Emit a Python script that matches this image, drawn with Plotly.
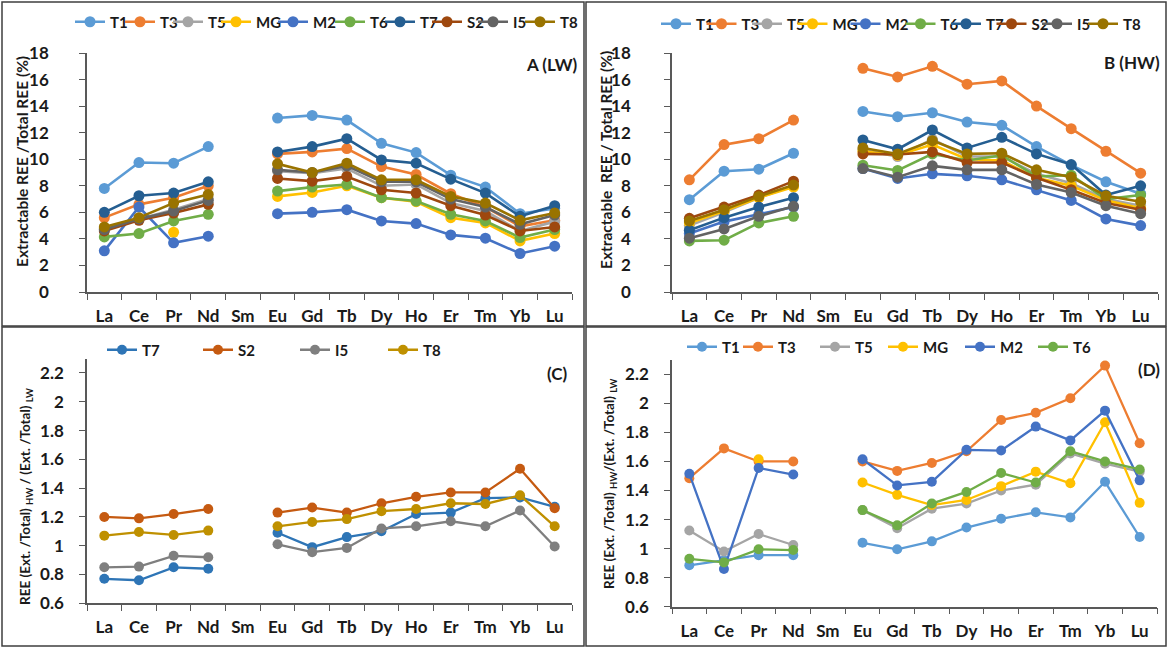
import plotly.graph_objects as go

W, H = 1168, 648

elements = ["La", "Ce", "Pr", "Nd", "Sm", "Eu", "Gd", "Tb", "Dy", "Ho", "Er", "Tm", "Yb", "Lu"]

# ---------- Panel A (LW): Extractable REE / Total REE (%) ----------
lw_T1 = [7.8, 9.75, 9.7, 10.95, None, 13.1, 13.3, 12.95, 11.2, 10.5, 8.8, 7.9, 5.9, 6.3]
lw_T3 = [5.6, 6.6, 7.1, 8.0, None, 10.4, 10.55, 10.8, 9.45, 8.85, 7.4, 6.4, 4.95, 5.4]
lw_T5 = [4.8, 5.5, 6.2, 7.0, None, 9.1, 8.95, 9.3, 8.0, 8.1, 6.7, 6.1, 4.6, 5.3]
lw_MG = [None, None, 4.5, None, None, 7.2, 7.5, 8.0, 7.1, 6.8, 5.6, 5.2, 3.85, 4.4]
lw_M2 = [3.1, 6.4, 3.7, 4.2, None, 5.9, 6.0, 6.2, 5.35, 5.15, 4.3, 4.05, 2.9, 3.45]
lw_T6 = [4.15, 4.4, 5.35, 5.85, None, 7.6, 7.9, 8.1, 7.1, 6.85, 5.85, 5.35, 4.1, 4.7]
lw_T7 = [6.0, 7.25, 7.45, 8.3, None, 10.55, 10.95, 11.55, 9.95, 9.7, 8.5, 7.45, 5.7, 6.5]
lw_S2 = [4.6, 5.4, 5.95, 6.6, None, 8.55, 8.35, 8.7, 7.7, 7.45, 6.5, 5.8, 4.6, 4.9]
lw_I5 = [4.7, 5.5, 6.1, 6.9, None, 9.2, 9.0, 9.5, 8.3, 8.3, 7.0, 6.4, 5.1, 5.8]
lw_T8 = [4.9, 5.6, 6.7, 7.35, None, 9.65, 9.0, 9.7, 8.45, 8.45, 7.2, 6.7, 5.4, 5.95]

# ---------- Panel B (HW) ----------
hw_T1 = [6.95, 9.1, 9.25, 10.45, None, 13.6, 13.2, 13.5, 12.8, 12.55, 10.95, 9.55, 8.3, 7.4]
hw_T3 = [8.45, 11.1, 11.55, 12.95, None, 16.85, 16.2, 17.0, 15.65, 15.9, 14.0, 12.3, 10.6, 8.95]
hw_T5 = [5.0, 6.0, 7.1, 8.0, None, 10.7, 10.2, 11.5, 10.2, 10.2, 8.9, 8.2, 7.0, 6.5]
hw_MG = [5.2, 6.1, 7.1, 7.9, None, 10.6, 10.3, 11.1, 10.0, 9.9, 8.6, 8.0, 6.9, 6.3]
hw_M2 = [4.4, 5.3, 5.85, 6.4, None, 9.3, 8.55, 8.9, 8.75, 8.45, 7.7, 6.9, 5.5, 5.0]
hw_T6 = [3.85, 3.9, 5.2, 5.7, None, 9.55, 9.15, 10.4, 9.9, 10.3, 8.7, 8.8, 7.0, 7.3]
hw_T7 = [4.65, 5.6, 6.4, 7.1, None, 11.45, 10.75, 12.2, 10.85, 11.65, 10.4, 9.6, 7.3, 8.0]
hw_S2 = [5.55, 6.4, 7.3, 8.35, None, 10.4, 10.35, 10.55, 9.75, 9.75, 8.6, 7.7, 6.7, 6.2]
hw_I5 = [4.05, 4.75, 5.7, 6.45, None, 9.3, 8.65, 9.5, 9.2, 9.2, 8.1, 7.5, 6.5, 5.9]
hw_T8 = [5.35, 6.2, 7.2, 8.05, None, 10.85, 10.4, 11.4, 10.4, 10.45, 9.2, 8.65, 7.25, 6.8]

# ---------- Panel C: ratio HW/LW ----------
c_T7 = [0.77, 0.76, 0.85, 0.84, None, 1.09, 0.99, 1.06, 1.10, 1.22, 1.23, 1.33, 1.335, 1.27]
c_S2 = [1.20, 1.19, 1.22, 1.255, None, 1.23, 1.265, 1.23, 1.295, 1.34, 1.37, 1.37, 1.535, 1.26]
c_I5 = [0.85, 0.855, 0.93, 0.92, None, 1.01, 0.955, 0.985, 1.12, 1.135, 1.17, 1.135, 1.245, 0.995]
c_T8 = [1.07, 1.095, 1.075, 1.105, None, 1.135, 1.165, 1.185, 1.24, 1.255, 1.295, 1.29, 1.35, 1.135]

# ---------- Panel D: ratio HW/LW ----------
d_T1 = [0.885, 0.92, 0.955, 0.955, None, 1.04, 0.995, 1.05, 1.145, 1.205, 1.25, 1.215, 1.46, 1.08]
d_T3 = [1.485, 1.69, 1.60, 1.60, None, 1.60, 1.535, 1.59, 1.67, 1.885, 1.935, 2.035, 2.26, 1.725]
d_T5 = [1.125, 0.98, 1.10, 1.025, None, 1.265, 1.14, 1.275, 1.31, 1.40, 1.44, 1.655, 1.585, 1.53]
d_MG = [None, None, 1.615, None, None, 1.455, 1.37, 1.30, 1.335, 1.43, 1.53, 1.45, 1.87, 1.315]
d_M2 = [1.515, 0.86, 1.555, 1.51, None, 1.615, 1.435, 1.46, 1.68, 1.675, 1.84, 1.745, 1.95, 1.47]
d_T6 = [0.93, 0.905, 0.995, 0.99, None, 1.265, 1.16, 1.31, 1.39, 1.52, 1.455, 1.67, 1.60, 1.545]

ab_ticks = [0, 2, 4, 6, 8, 10, 12, 14, 16, 18]
ab_ticktext = ["0", "2", "4", "6", "8", "10", "12", "14", "16", "18"]
cd_ticks = [0.6, 0.8, 1.0, 1.2, 1.4, 1.6, 1.8, 2.0, 2.2]
cd_ticktext = ["0.6", "0.8", "1", "1.2", "1.4", "1.6", "1.8", "2", "2.2"]

colors = {"T1": "#5B9BD5", "T3": "#ED7D31", "T5": "#A5A5A5", "MG": "#FFC000", "M2": "#4472C4",
          "T6": "#70AD47", "T7": "#255E91", "S2": "#9E480E", "I5": "#636363", "T8": "#997300"}
colors_c = {"T7": "#2E75B6", "S2": "#C55A11", "I5": "#7F7F7F", "T8": "#BF9000"}

FONT = "Lato"
TXT = "#1a1a1a"

def fx(px):
    return px / W

def fy(py):
    return 1 - py / H

fig = go.Figure()

panel_a = [("T1", lw_T1), ("T3", lw_T3), ("T5", lw_T5), ("MG", lw_MG), ("M2", lw_M2),
           ("T6", lw_T6), ("T7", lw_T7), ("S2", lw_S2), ("I5", lw_I5), ("T8", lw_T8)]
panel_b = [("T1", hw_T1), ("T3", hw_T3), ("T5", hw_T5), ("MG", hw_MG), ("M2", hw_M2),
           ("T6", hw_T6), ("T7", hw_T7), ("S2", hw_S2), ("I5", hw_I5), ("T8", hw_T8)]
panel_c = [("T7", c_T7), ("S2", c_S2), ("I5", c_I5), ("T8", c_T8)]
panel_d = [("T1", d_T1), ("T3", d_T3), ("T5", d_T5), ("MG", d_MG), ("M2", d_M2), ("T6", d_T6)]

ew_a = [5, 3, 3, 12, 12, 5, 2, 1, 2, 20]
ew_b = [0.5, 0.5, 0.5, 8, 10, 0.5, 0.5, 0.5, 1, 20]
ew_c = [51, 52, 43, 30]
ew_d = [11, 32, 23, 32, 28, 30]

def add_panel(series, xa, ya, leg, cmap, ews, msize, lwidth):
    for (name, vals), ew in zip(series, ews):
        fig.add_trace(go.Scatter(
            x=elements, y=vals, name=name, mode="lines+markers",
            xaxis=xa, yaxis=ya, legend=leg, legendwidth=ew,
            line=dict(color=cmap[name], width=lwidth),
            marker=dict(color=cmap[name], size=msize),
            connectgaps=False,
        ))

add_panel(panel_a, "x", "y", "legend", colors, ew_a, 11, 2.6)
add_panel(panel_b, "x2", "y2", "legend2", colors, ew_b, 11, 2.6)
add_panel(panel_c, "x3", "y3", "legend3", colors_c, ew_c, 10, 2.3)
add_panel(panel_d, "x4", "y4", "legend4", colors, ew_d, 10, 2.3)

AXC = "#595959"

def xax(dom, anchor):
    return dict(domain=dom, anchor=anchor, type="category", categoryorder="array",
                categoryarray=elements, range=[-0.5, 13.5], tickson="boundaries",
                ticks="outside", ticklen=6, tickcolor=AXC, tickwidth=1.3,
                showline=True, linecolor=AXC, linewidth=1.5, showgrid=False, zeroline=False,
                ticklabelstandoff=8, automargin=False,
                tickfont=dict(family=FONT, size=17, color=TXT, weight="bold"), fixedrange=True)

def yax(dom, anchor, rng, tv, tt, standoff):
    return dict(domain=dom, anchor=anchor, range=rng, tickvals=tv, ticktext=tt,
                ticks="outside", ticklen=6, tickcolor=AXC, tickwidth=1.3,
                showline=True, linecolor=AXC, linewidth=1.5, showgrid=False, zeroline=False,
                ticklabelstandoff=standoff, automargin=False,
                tickfont=dict(family=FONT, size=17, color=TXT, weight="bold"), fixedrange=True)

def legend_cfg(xpx, ypx):
    return dict(x=fx(xpx), y=fy(ypx), xanchor="left", yanchor="middle", orientation="h",
                bgcolor="rgba(0,0,0,0)", borderwidth=0, tracegroupgap=0,
                font=dict(family=FONT, size=15, color=TXT, weight="bold"))

# panel boxes
frame = "#3f3f3f"
shapes = []
for (x0, y0, x1, y1) in [(2, 2, 584, 326), (586, 2, 1166, 326), (2, 327, 584, 646), (586, 327, 1166, 646)]:
    shapes.append(dict(type="rect", xref="paper", yref="paper", x0=fx(x0), x1=fx(x1),
                       y0=fy(y1), y1=fy(y0), line=dict(color=frame, width=1.5)))

annos = []
def add_text(txt, xpx, ypx, size, xanchor="center", angle=0):
    annos.append(dict(text=txt, x=fx(xpx), y=fy(ypx), xref="paper", yref="paper",
                      showarrow=False, xanchor=xanchor, yanchor="middle", textangle=angle,
                      font=dict(family=FONT, size=size, color=TXT, weight="bold")))

add_text("A (LW)", 580, 64, 17, "right")
add_text("B (HW)", 1162, 63, 17, "right")
add_text("(C)", 570, 373, 17, "right")
add_text("(D)", 1162, 369, 17, "right")
add_text("Extractable REE /Total REE (%)", 22, 162, 15.5, angle=-90)
add_text("Extractable  REE / Total REE (%)", 606, 160, 15.5, angle=-90)
add_text("REE (Ext. /Total) <sub>HW</sub> / (Ext. /Total) <sub>LW</sub>", 26, 497, 13.5, angle=-90)
add_text("REE (Ext. /Total) <sub>HW</sub>/(Ext. /Total) <sub>LW</sub>", 610, 484, 13.5, angle=-90)

fig.update_layout(
    width=W, height=H, margin=dict(l=0, r=0, t=0, b=0, pad=0, autoexpand=False),
    paper_bgcolor="white", plot_bgcolor="white",
    showlegend=True,
    xaxis=xax([fx(87), fx(572)], "y"),
    yaxis=yax([fy(292), fy(53)], "x", [0, 18], ab_ticks, ab_ticktext, 27),
    xaxis2=xax([fx(672), fx(1158)], "y2"),
    yaxis2=yax([fy(292), fy(53)], "x2", [0, 18], ab_ticks, ab_ticktext, 30),
    xaxis3=xax([fx(87), fx(572)], "y3"),
    yaxis3=yax([fy(603.3), fy(358.6)], "x3", [0.6, 2.3], cd_ticks, cd_ticktext, 12),
    xaxis4=xax([fx(672), fx(1157)], "y4"),
    yaxis4=yax([fy(606.7), fy(359.8)], "x4", [0.6, 2.3], cd_ticks, cd_ticktext, 12),
    legend=legend_cfg(70, 22),
    legend2=legend_cfg(656, 24),
    legend3=legend_cfg(102, 350),
    legend4=legend_cfg(682, 347),
    shapes=shapes,
    annotations=annos,
)

fig.write_html("out.html",
               config={"displayModeBar": False},
               post_script="document.body.style.margin='0px';document.body.style.overflow='hidden';")
